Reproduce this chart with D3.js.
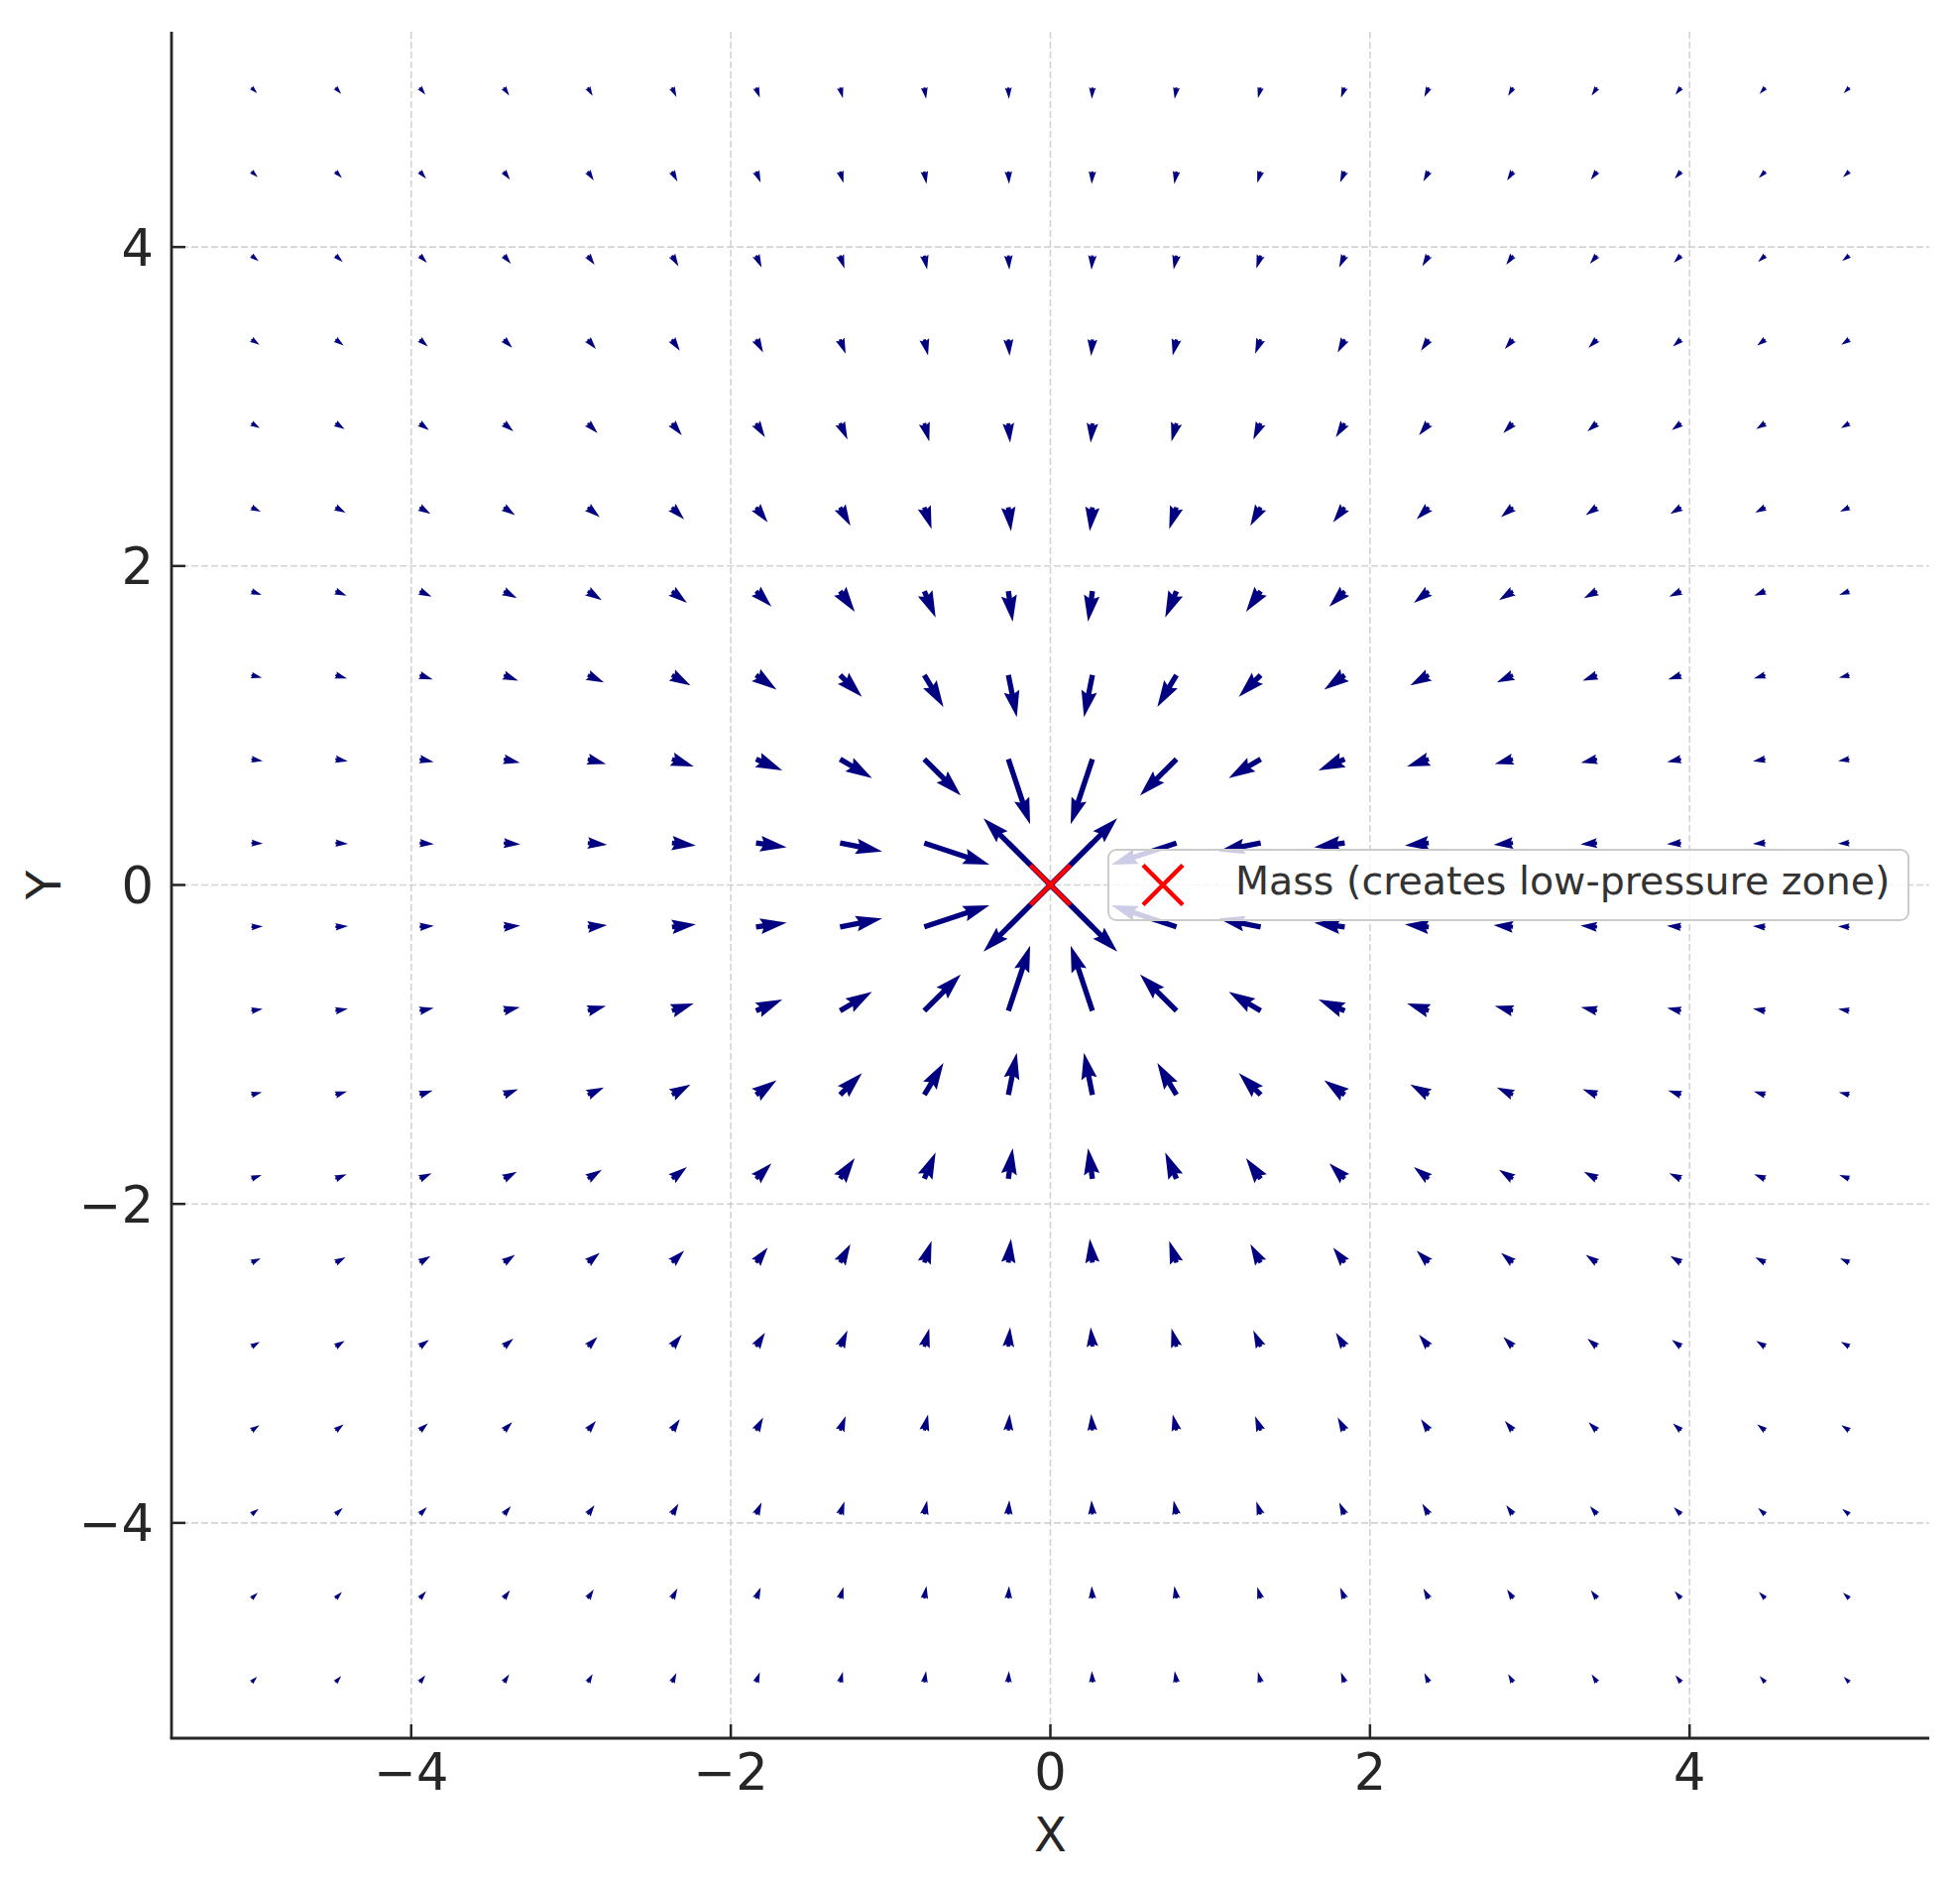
<!DOCTYPE html>
<html>
  <head>
    <title>Flow field around a mass</title>
    <meta charset="UTF-8" />
    <style>
      body { margin: 0; background: #ffffff; }
      text { font-family: "DejaVu Sans", sans-serif; }
    </style>
  </head>
  <body>
    <script src="https://cdn.jsdelivr.net/npm/d3@7"></script>
    <script>
      // grid positions of the arrows (same on both axes)
      var gridCoords = [-5, -4.474, -3.947, -3.421, -2.895, -2.368, -1.842, -1.316, -0.789, -0.263,
                        0.263, 0.789, 1.316, 1.842, 2.368, 2.895, 3.421, 3.947, 4.474, 5];

      // arrow strength, one quadrant, indexed by [column offset][row offset] from the centre
      var strengthQuadrant = [
        [2.69, 1.20, 0.75, 0.54, 0.42, 0.34, 0.29, 0.25, 0.22, 0.20],
        [1.20, 0.90, 0.65, 0.50, 0.40, 0.33, 0.29, 0.25, 0.22, 0.20],
        [0.75, 0.65, 0.54, 0.44, 0.37, 0.31, 0.27, 0.24, 0.21, 0.19],
        [0.54, 0.50, 0.44, 0.38, 0.33, 0.29, 0.26, 0.23, 0.21, 0.19],
        [0.42, 0.40, 0.37, 0.33, 0.30, 0.27, 0.24, 0.22, 0.20, 0.18],
        [0.34, 0.33, 0.31, 0.29, 0.27, 0.24, 0.22, 0.20, 0.19, 0.17],
        [0.29, 0.29, 0.27, 0.26, 0.24, 0.22, 0.21, 0.19, 0.18, 0.17],
        [0.25, 0.25, 0.24, 0.23, 0.22, 0.20, 0.19, 0.18, 0.17, 0.16],
        [0.22, 0.22, 0.21, 0.21, 0.20, 0.19, 0.18, 0.17, 0.16, 0.15],
        [0.20, 0.20, 0.19, 0.19, 0.18, 0.17, 0.17, 0.16, 0.15, 0.14]
      ];

      var massPos = [0, 0];
      var massLabel = "Mass (creates low-pressure zone)";
      var xTicks = [-4, -2, 0, 2, 4];
      var yTicks = [-4, -2, 0, 2, 4];
      var xLabel = "X", yLabel = "Y";

      var width = 1977, height = 1896;
      var plotLeft = 173, plotRight = 1946, plotTop = 32, plotBottom = 1753;
      var ink = "#262626";

      var x = d3.scaleLinear().domain([-5.5, 5.5]).range([plotLeft, plotRight]);
      var y = d3.scaleLinear().domain([-5.35, 5.35]).range([plotBottom, plotTop]);

      var svg = d3.select("body").append("svg")
                  .attr("width", width)
                  .attr("height", height);
      svg.append("rect").attr("width", width).attr("height", height).attr("fill", "#ffffff");

      // grid
      var grid = svg.append("g");
      grid.selectAll(".gx").data(xTicks).enter().append("line")
          .attr("x1", function(d) { return x(d); }).attr("x2", function(d) { return x(d); })
          .attr("y1", plotTop).attr("y2", plotBottom);
      grid.selectAll(".gy").data(yTicks).enter().append("line")
          .attr("y1", function(d) { return y(d); }).attr("y2", function(d) { return y(d); })
          .attr("x1", plotLeft).attr("x2", plotRight);
      grid.selectAll("line")
          .attr("stroke", "#c8c8c8")
          .attr("stroke-opacity", 0.8)
          .attr("stroke-width", 1.6)
          .attr("stroke-dasharray", "7,3");

      // build arrow list
      var arrows = [];
      for (var i = 0; i < gridCoords.length; i++) {
        for (var j = 0; j < gridCoords.length; j++) {
          var qi = i < 10 ? 9 - i : i - 10;
          var qj = j < 10 ? 9 - j : j - 10;
          arrows.push({ x: gridCoords[i], y: gridCoords[j], s: strengthQuadrant[qi][qj] });
        }
      }

      // matplotlib style quiver arrows
      var shaftW = 0.003 * (plotRight - plotLeft);
      var pxPerStrength = 0.358 * (x(1) - x(0));
      var headW = 3, headL = 5, headAxisL = 4.5, minSh = 5;

      function arrowPoints(lenPx) {
        var L = lenPx / shaftW;
        var pts;
        if (L >= minSh) {
          pts = [[0, 0.5], [L - headAxisL, 0.5], [L - headL, headW / 2], [L, 0],
                 [L - headL, -headW / 2], [L - headAxisL, -0.5], [0, -0.5]];
        } else {
          var k = L / minSh;
          pts = [[0, 0.5], [0.5, 0.5], [0, headW / 2], [minSh, 0],
                 [0, -headW / 2], [0.5, -0.5], [0, -0.5]].map(function(p) { return [p[0] * k, p[1] * k]; });
        }
        return pts.map(function(p) { return (p[0] * shaftW).toFixed(2) + "," + (p[1] * shaftW).toFixed(2); }).join(" ");
      }

      svg.append("g").selectAll("polygon")
          .data(arrows)
          .enter()
          .append("polygon")
          .attr("points", function(d) { return arrowPoints(d.s * pxPerStrength); })
          .attr("transform", function(d) {
            var dx = x(massPos[0]) - x(d.x), dy = y(massPos[1]) - y(d.y);
            var ang = Math.atan2(dy, dx) * 180 / Math.PI;
            return "translate(" + x(d.x) + "," + y(d.y) + ") rotate(" + ang + ")";
          })
          .attr("fill", "#000080");

      // mass marker
      function drawCross(g, cx, cy) {
        var r = 20;
        g.append("path")
         .attr("d", "M" + (cx - r) + "," + (cy - r) + "L" + (cx + r) + "," + (cy + r) +
                    "M" + (cx - r) + "," + (cy + r) + "L" + (cx + r) + "," + (cy - r))
         .attr("stroke", "#ff0000")
         .attr("stroke-width", 4.5)
         .attr("fill", "none");
      }
      drawCross(svg, x(massPos[0]), y(massPos[1]));

      // spines
      svg.append("line").attr("x1", plotLeft).attr("x2", plotLeft).attr("y1", plotTop).attr("y2", plotBottom)
         .attr("stroke", ink).attr("stroke-width", 2.8);
      svg.append("line").attr("x1", plotLeft - 1.4).attr("x2", plotRight).attr("y1", plotBottom).attr("y2", plotBottom)
         .attr("stroke", ink).attr("stroke-width", 2.8);

      // ticks, pointing inward
      var fmt = d3.format("d");
      svg.append("g").selectAll("line").data(xTicks).enter().append("line")
         .attr("x1", function(d) { return x(d); }).attr("x2", function(d) { return x(d); })
         .attr("y1", plotBottom).attr("y2", plotBottom - 14)
         .attr("stroke", ink).attr("stroke-width", 2.5);
      svg.append("g").selectAll("text").data(xTicks).enter().append("text")
         .attr("x", function(d) { return x(d); })
         .attr("y", plotBottom + 52)
         .attr("text-anchor", "middle")
         .attr("font-size", 51)
         .attr("fill", ink)
         .text(function(d) { return fmt(d); });

      svg.append("g").selectAll("line").data(yTicks).enter().append("line")
         .attr("y1", function(d) { return y(d); }).attr("y2", function(d) { return y(d); })
         .attr("x1", plotLeft).attr("x2", plotLeft + 14)
         .attr("stroke", ink).attr("stroke-width", 2.5);
      svg.append("g").selectAll("text").data(yTicks).enter().append("text")
         .attr("x", plotLeft - 18)
         .attr("y", function(d) { return y(d) + 18.5; })
         .attr("text-anchor", "end")
         .attr("font-size", 51)
         .attr("fill", ink)
         .text(function(d) { return fmt(d); });

      // axis labels
      svg.append("text")
         .attr("x", x(0)).attr("y", 1867)
         .attr("text-anchor", "middle")
         .attr("font-size", 48)
         .attr("fill", ink)
         .text(xLabel);
      svg.append("text")
         .attr("transform", "translate(61," + y(0) + ") rotate(-90)")
         .attr("text-anchor", "middle")
         .attr("font-size", 48)
         .attr("fill", ink)
         .text(yLabel);

      // legend
      var legend = svg.append("g");
      legend.append("rect")
            .attr("x", 1118).attr("y", 857)
            .attr("width", 807).attr("height", 71)
            .attr("rx", 8)
            .attr("fill", "#ffffff").attr("fill-opacity", 0.8)
            .attr("stroke", "#cccccc").attr("stroke-width", 2);
      drawCross(legend, 1173, y(0));
      legend.append("text")
            .attr("x", 1246).attr("y", 902)
            .attr("font-size", 39.5)
            .attr("fill", "#333333")
            .text(massLabel);
    </script>
  </body>
</html>
